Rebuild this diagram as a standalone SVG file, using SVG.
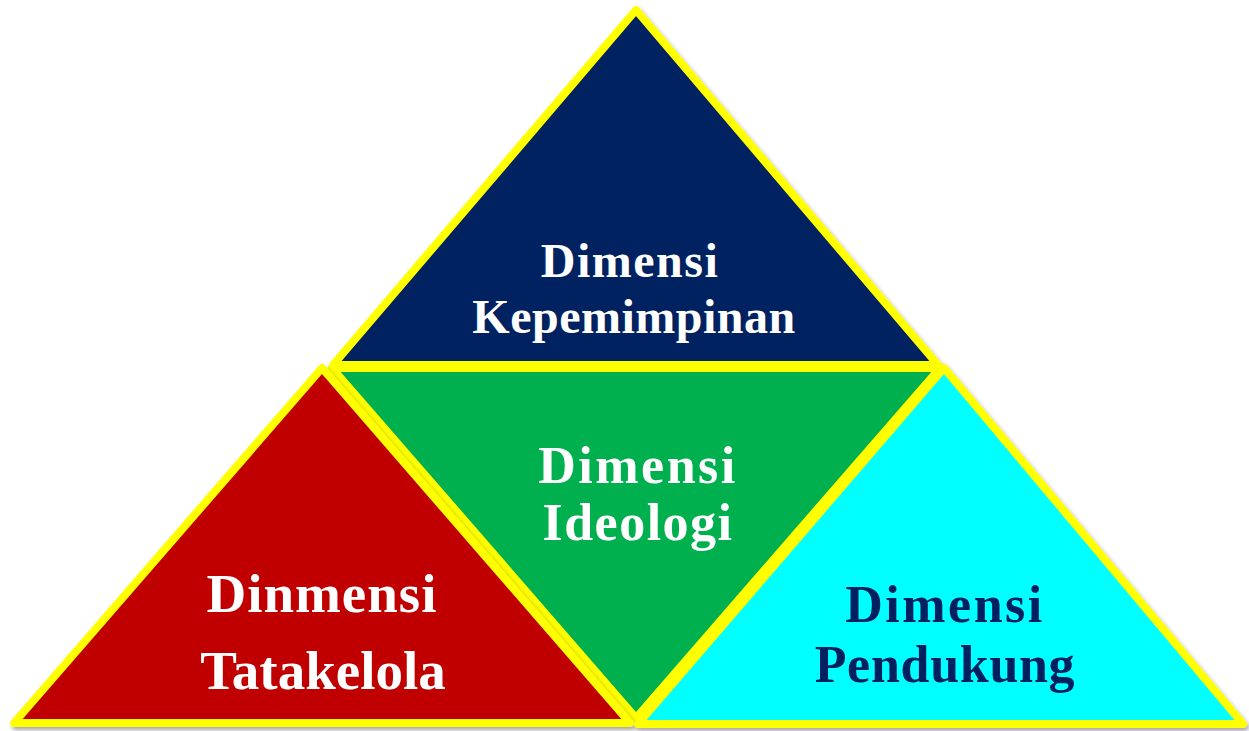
<svg xmlns="http://www.w3.org/2000/svg" width="1249" height="731" viewBox="0 0 1249 731">
<defs>
<style>
.tri{stroke:#FFFF00;stroke-width:8;stroke-linejoin:round;filter:url(#sh)}
.lbl{font-family:"Liberation Serif","DejaVu Serif",serif;font-weight:bold;text-anchor:middle}
.s48{font-size:48px}
.s52{font-size:52px}
.s55{font-size:55px}
.w{fill:#FFFFFF}
.n{fill:#002060}
</style>
<filter id="sh" x="-10%" y="-10%" width="120%" height="120%">
<feDropShadow dx="2" dy="3" stdDeviation="2" flood-color="#000" flood-opacity="0.35"/>
</filter>
</defs>
<rect width="1249" height="731" fill="#FFFFFF"/>
<g id="kepemimpinan">
<polygon class="tri" points="636,10 938,365 333,365" fill="#002060"/>
<text class="lbl s48 w" x="630" y="277" letter-spacing="1.5">Dimensi</text>
<text class="lbl s48 w" x="634" y="333" letter-spacing="0.5">Kepemimpinan</text>
</g>
<g id="ideologi">
<polygon class="tri" points="332,368 940,368 636,718" fill="#00B050"/>
<text class="lbl s52 w" x="638" y="483" letter-spacing="2.5">Dimensi</text>
<text class="lbl s52 w" x="638" y="540" letter-spacing="1.5">Ideologi</text>
</g>
<g id="tatakelola">
<polygon class="tri" points="322,368 630,723 14,723" fill="#C00000"/>
<text class="lbl s55 w" x="322" y="612" letter-spacing="1">Dinmensi</text>
<text class="lbl s55 w" x="323" y="689">Tatakelola</text>
</g>
<g id="pendukung">
<polygon class="tri" points="944,368 1243,724 638,724" fill="#00FFFF"/>
<text class="lbl s52 n" x="945" y="622" letter-spacing="2.5">Dimensi</text>
<text class="lbl s52 n" x="945" y="682" letter-spacing="0.7">Pendukung</text>
</g>
<g id="connectors"/>
</svg>
